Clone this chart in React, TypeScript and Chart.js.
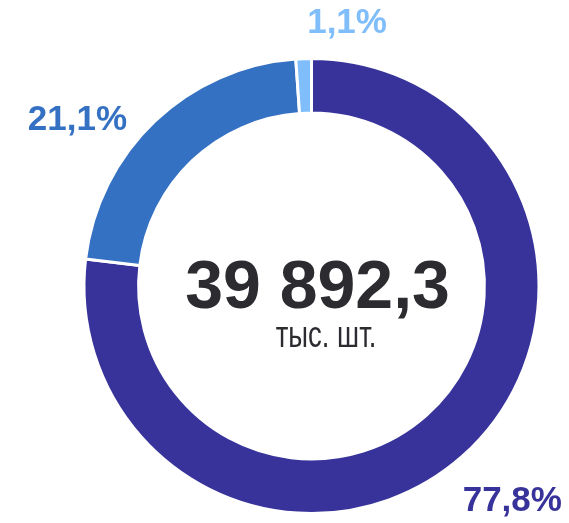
import React, { useEffect, useRef } from "react";
import { Chart, registerables } from "chart.js";

Chart.register(...registerables);

const categories = ["Сегмент 1", "Сегмент 2", "Сегмент 3"];
// slice sizes as drawn in the picture
const values = [76.9, 22.0, 1.1];
const valueLabels = ["77,8%", "21,1%", "1,1%"];
const totalLabel = "39 892,3";
const unitLabel = "тыс. шт.";

const colors = ["#37339a", "#3571c3", "#7fbdfb"];
// label placement tweaks (dx, dy) relative to the radial position
const labelNudges = [
  [10, 0],
  [-36, 43],
  [45.5, 25],
];

const FONT = "'Liberation Sans', Arial, sans-serif";

const labelPlugin = {
  id: "sliceLabels",
  afterDatasetsDraw(chart: any) {
    const ctx = chart.ctx;
    const meta = chart.getDatasetMeta(0);
    ctx.save();
    meta.data.forEach((arc: any, i: number) => {
      const { x, y, startAngle, endAngle, outerRadius } = arc.getProps(
        ["x", "y", "startAngle", "endAngle", "outerRadius"],
        true
      );
      const mid = (startAngle + endAngle) / 2;
      const r = outerRadius + 60;
      const lx = x + Math.cos(mid) * r + labelNudges[i][0];
      const ly = y + Math.sin(mid) * r + labelNudges[i][1];
      ctx.font = `bold 35px ${FONT}`;
      ctx.fillStyle = colors[i];
      ctx.textAlign = "center";
      ctx.textBaseline = "middle";
      ctx.fillText(valueLabels[i], lx, ly);
    });
    const first = meta.data[0];
    if (first) {
      const cx = first.x;
      const cy = first.y;
      ctx.fillStyle = "#2b2b30";
      ctx.textAlign = "center";
      ctx.textBaseline = "alphabetic";
      ctx.font = `bold 68px ${FONT}`;
      ctx.fillText(totalLabel, cx + 6, cy + 22);
      ctx.save();
      ctx.translate(cx + 14.5, cy + 61);
      ctx.scale(1, 1.35);
      ctx.font = `27.5px ${FONT}`;
      ctx.fillText(unitLabel, 0, 0);
      ctx.restore();
    }
    ctx.restore();
  },
};

export default function App() {
  const ref = useRef<HTMLCanvasElement | null>(null);
  useEffect(() => {
    if (!ref.current) return;
    const chart = new Chart(ref.current, {
      type: "doughnut",
      data: {
        labels: categories,
        datasets: [
          {
            data: values,
            backgroundColor: colors,
            borderColor: "#ffffff",
            borderWidth: 3,
            hoverOffset: 0,
          },
        ],
      },
      options: {
        animation: false,
        responsive: false,
        cutout: "76%",
        layout: { padding: { left: 82.5, right: 28.5, top: 57, bottom: 8 } },
        plugins: {
          legend: { display: false },
          tooltip: { enabled: false },
        },
      },
      plugins: [labelPlugin],
    });
    return () => chart.destroy();
  }, []);
  return (
    <div style={{ position: "absolute", left: 0, top: 0, width: 569, height: 523 }}>
      <canvas ref={ref} width={569} height={523} style={{ width: 569, height: 523 }} />
    </div>
  );
}
